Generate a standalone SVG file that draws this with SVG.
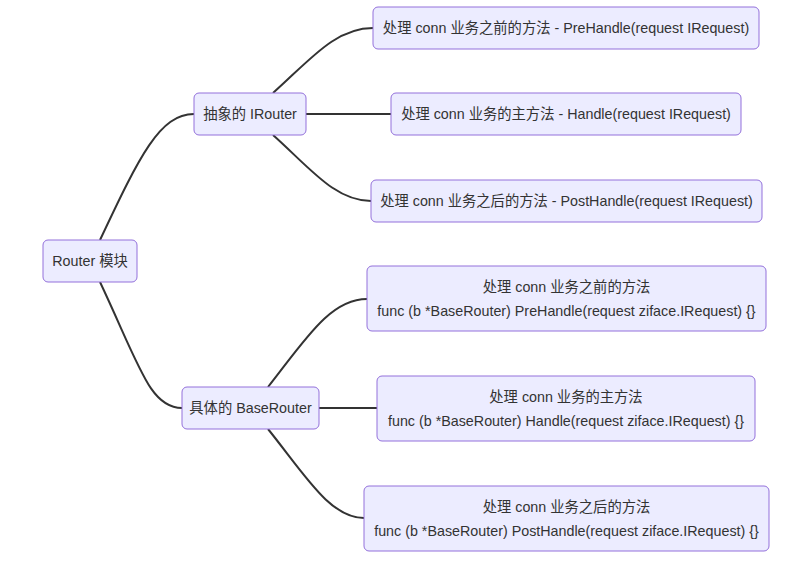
<svg xmlns="http://www.w3.org/2000/svg" width="812" height="561" viewBox="0 0 812 561">
<style>
.n rect{fill:#ECECFF;stroke:#9370DB;stroke-width:1}
.n text{font-family:"Liberation Sans","Noto Sans CJK SC",sans-serif;font-size:14.3px;fill:#333;text-anchor:middle}
.e path{fill:none;stroke:#333;stroke-width:2}
</style>
<rect width="812" height="561" fill="#fff"/>
<g id="edges" class="e">
<path d="M100,240 C140,155 160,114 194,114"/>
<path d="M100,282 C140,367 150,408 182,408"/>
<path d="M273,93 C310,60 335,28 373,28"/>
<path d="M306,114 L391,114"/>
<path d="M273,135 C310,168 335,201 371,201"/>
<path d="M268,387 C305,340 330,299 367,299"/>
<path d="M319,408 L377,408"/>
<path d="M268,429 C305,475 330,518 364,518"/>
</g>
<g id="root" class="n"><rect x="43" y="240" width="94" height="42" rx="5"/><text x="90" y="266">Router 模块</text></g>
<g id="irouter" class="n"><rect x="194" y="93" width="112" height="42" rx="5"/><text x="250" y="119">抽象的 IRouter</text></g>
<g id="baserouter" class="n"><rect x="182" y="387" width="137" height="42" rx="5"/><text x="250.5" y="413">具体的 BaseRouter</text></g>
<g id="n1" class="n"><rect x="373" y="7" width="386" height="42" rx="5"/><text x="566" y="33">处理 conn 业务之前的方法 - PreHandle(request IRequest)</text></g>
<g id="n2" class="n"><rect x="391" y="93" width="350" height="42" rx="5"/><text x="566" y="119">处理 conn 业务的主方法 - Handle(request IRequest)</text></g>
<g id="n3" class="n"><rect x="371" y="180" width="391" height="42" rx="5"/><text x="566.5" y="206">处理 conn 业务之后的方法 - PostHandle(request IRequest)</text></g>
<g id="n4" class="n"><rect x="367" y="266" width="399" height="65" rx="5"/><text x="566.5" y="292">处理 conn 业务之前的方法</text><text x="566.5" y="316">func (b *BaseRouter) PreHandle(request ziface.IRequest) {}</text></g>
<g id="n5" class="n"><rect x="377" y="376" width="378" height="65" rx="5"/><text x="566" y="402">处理 conn 业务的主方法</text><text x="566" y="426">func (b *BaseRouter) Handle(request ziface.IRequest) {}</text></g>
<g id="n6" class="n"><rect x="364" y="486" width="405" height="65" rx="5"/><text x="566.5" y="512">处理 conn 业务之后的方法</text><text x="566.5" y="536">func (b *BaseRouter) PostHandle(request ziface.IRequest) {}</text></g>
</svg>
